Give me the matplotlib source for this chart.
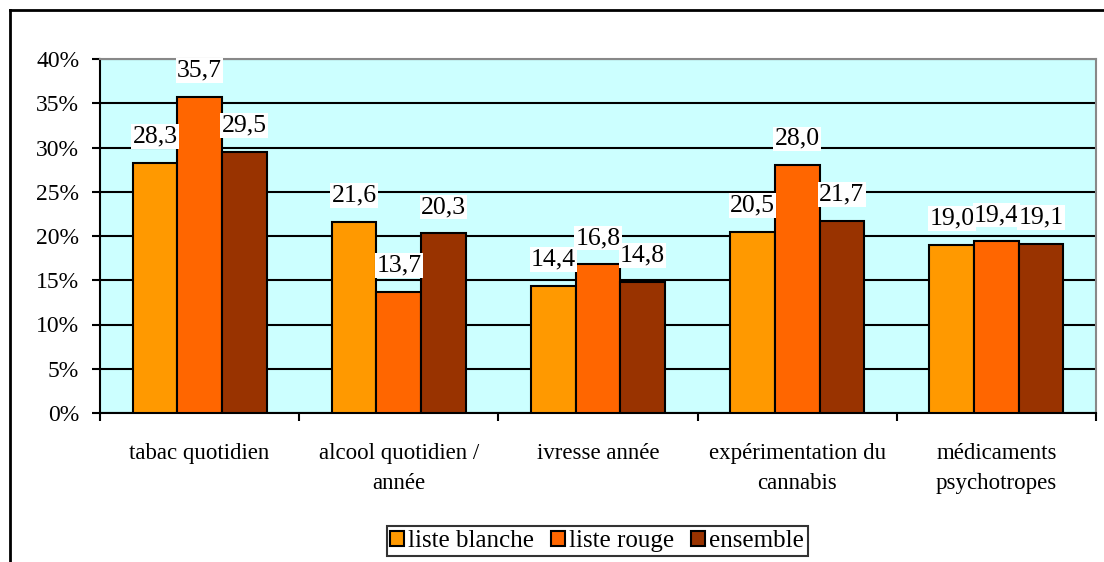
import numpy as np
import matplotlib
matplotlib.use("Agg")
import matplotlib.pyplot as plt
import matplotlib.transforms as mtransforms
from matplotlib.lines import Line2D

# Données
categories = ["tabac quotidien", "alcool quotidien /\nannée", "ivresse année",
              "expérimentation du\ncannabis", "médicaments\npsychotropes"]
liste_blanche = [28.3, 21.6, 14.4, 20.5, 19.0]
liste_rouge = [35.7, 13.7, 16.8, 28.0, 19.4]
ensemble = [29.5, 20.3, 14.8, 21.7, 19.1]
series = ["liste blanche", "liste rouge", "ensemble"]
couleurs = ["#FF9900", "#FF6600", "#993300"]

plt.rcParams['font.family'] = ['Liberation Serif', 'DejaVu Serif']

fig = plt.figure(figsize=(11.04, 5.62), dpi=100)
ax = fig.add_axes([100 / 1104, 149 / 562, 996 / 1104, 354 / 562])
ax.set_facecolor("#CCFFFF")

x = np.arange(len(categories))
bredde = 0.224
for i, (navn, verdier, farge) in enumerate(zip(series, [liste_blanche, liste_rouge, ensemble], couleurs)):
    pos = x + (i - 1) * bredde
    ax.bar(pos, verdier, bredde, color=farge, edgecolor="black", linewidth=1.5,
           label=navn, zorder=3)
    for p, v in zip(pos, verdier):
        ax.annotate(f"{v:.1f}".replace(".", ","), (p, v), xytext=(0, 11),
                    textcoords="offset points", ha="center", va="bottom",
                    fontsize=18.5, zorder=5,
                    bbox=dict(boxstyle="square,pad=0.05", fc="white", ec="none"))

ax.set_xlim(-0.5, len(categories) - 0.5)
ax.set_ylim(0, 40)
ax.set_yticks(np.arange(0, 41, 5))
ax.set_yticklabels([f"{v}%" for v in range(0, 41, 5)], fontsize=17)
ax.yaxis.grid(True, color="black", linewidth=1.5, zorder=1)
ax.set_axisbelow(True)
offset = mtransforms.ScaledTranslation(0, -3 / 100, fig.dpi_scale_trans)
for lbl in ax.get_yticklabels():
    lbl.set_transform(lbl.get_transform() + offset)

ax.set_xticks(np.arange(-0.5, len(categories), 1))
ax.set_xticklabels([])
ax.tick_params(axis="x", direction="out", length=6, width=1.5)
ax.tick_params(axis="y", direction="out", length=6, width=1.5, pad=9)
for i, cat in enumerate(categories):
    ax.text(i, -3.4, cat, ha="center", va="top", fontsize=16.5,
            linespacing=1.55)

for s in ["top", "right"]:
    ax.spines[s].set_color("#888888")
    ax.spines[s].set_linewidth(1.5)
for s in ["left", "bottom"]:
    ax.spines[s].set_linewidth(1.5)

leg = ax.legend(loc="center", bbox_to_anchor=(597 / 1104, 21 / 562),
                bbox_transform=fig.transFigure, ncol=3, fontsize=18,
                frameon=True, fancybox=False, edgecolor="black",
                handlelength=0.55, handleheight=0.55, handletextpad=0.15,
                columnspacing=0.7, borderpad=0.15, borderaxespad=0)
leg.get_frame().set_linewidth(1.5)

# Ytre ramme
fig.add_artist(Line2D([10 / 1104, 10 / 1104], [0, 1 - 10 / 562], color="black",
                      linewidth=2, transform=fig.transFigure))
fig.add_artist(Line2D([10 / 1104, 1], [1 - 10 / 562, 1 - 10 / 562], color="black",
                      linewidth=2, transform=fig.transFigure))

fig.savefig("out.png", dpi=100)
